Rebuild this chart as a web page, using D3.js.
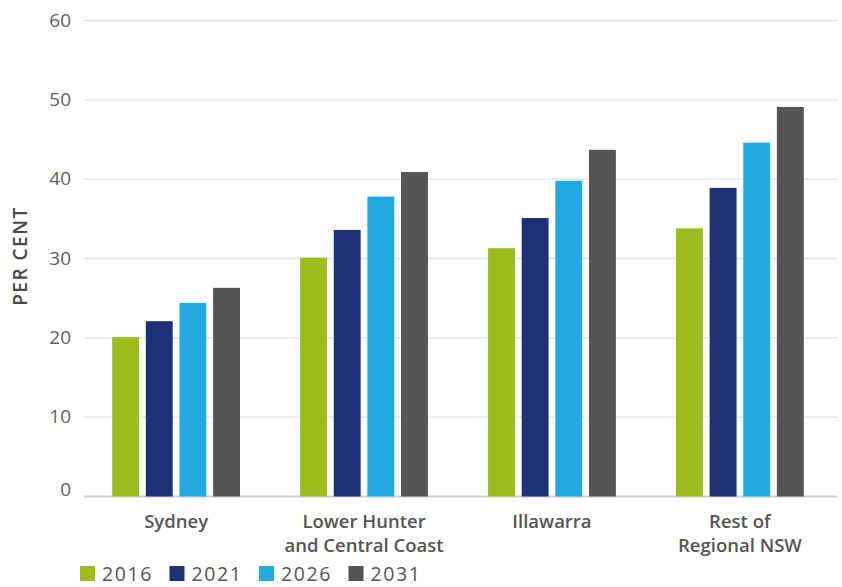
<!DOCTYPE html>
<html>
<head>
<meta charset="utf-8">
<script src="https://cdn.jsdelivr.net/npm/d3@7/dist/d3.min.js"></script>
<style>
  body { margin: 0; background: #fff; }
  text { font-family: "Open Sans", "Noto Sans", sans-serif; }
</style>
</head>
<body>
<svg id="chart"></svg>
<script>
// data
const regions = [["Sydney"], ["Lower Hunter", "and Central Coast"], ["Illawarra"], ["Rest of", "Regional NSW"]];
const years = ["2016", "2021", "2026", "2031"];
const v2016 = [20.1, 30.1, 31.3, 33.8];
const v2021 = [22.1, 33.6, 35.1, 38.9];
const v2026 = [24.4, 37.8, 39.8, 44.6];
const v2031 = [26.3, 40.9, 43.7, 49.1];
const yTicks = [0, 10, 20, 30, 40, 50, 60];

const colors = ["#9dbd1e", "#1d3177", "#23a9e1", "#555553"];
const series = [v2016, v2021, v2026, v2031];

const width = 842, height = 587;
const margin = { top: 20, right: 4, bottom: 91, left: 84 };

let svg = d3.select("#chart")
    .attr("width", width)
    .attr("height", height);

const names = regions.map(d => d.join(" "));

let x0 = d3.scaleBand()
    .domain(names)
    .range([margin.left, 832])
    .paddingInner(0.32)
    .paddingOuter(0.15);

let x1 = d3.scaleBand()
    .domain(years)
    .range([0, x0.bandwidth()])
    .paddingInner(0.2);

let y = d3.scaleLinear()
    .domain([0, 60])
    .range([height - margin.bottom + 0.5, margin.top + 0.5]);

// gridlines
svg.append("g")
    .selectAll("line")
    .data(yTicks)
    .enter()
    .append("line")
    .attr("x1", margin.left)
    .attr("x2", width - margin.right)
    .attr("y1", d => y(d))
    .attr("y2", d => y(d))
    .attr("stroke", d => d === 0 ? "#cfcfcf" : "#e0e0e0")
    .attr("stroke-width", d => d === 0 ? 2 : 1.3);

// y tick labels (the 0 sits above its line)
svg.append("g")
    .selectAll("text")
    .data(yTicks)
    .enter()
    .append("text")
    .attr("x", 71)
    .attr("y", d => d === 0 ? y(d) - 1 : y(d) + 6)
    .attr("text-anchor", "end")
    .attr("font-size", 19)
    .attr("fill", "#5e5e5e")
    .text(d => d);

// y title
svg.append("text")
    .attr("transform", "translate(27,256) rotate(-90)")
    .attr("text-anchor", "middle")
    .attr("font-size", 19)
    .attr("font-weight", 600)
    .attr("letter-spacing", 1.5)
    .attr("fill", "#4a4a4a")
    .text("PER CENT");

// bars
let rows = names.map((n, i) => ({ name: n, values: years.map((yr, j) => ({ year: yr, value: series[j][i], c: colors[j] })) }));

svg.append("g")
    .selectAll("g")
    .data(rows)
    .enter()
    .append("g")
    .attr("transform", d => "translate(" + x0(d.name) + ",0)")
    .selectAll("rect")
    .data(d => d.values)
    .enter()
    .append("rect")
    .attr("x", d => x1(d.year))
    .attr("y", d => y(d.value))
    .attr("width", x1.bandwidth())
    .attr("height", d => y(0) - y(d.value))
    .attr("fill", d => d.c);

// category labels
let cat = svg.append("g")
    .selectAll("text")
    .data(regions)
    .enter()
    .append("text")
    .attr("text-anchor", "middle")
    .attr("font-size", 18.5)
    .attr("font-weight", 600)
    .attr("fill", "#555");

cat.selectAll("tspan")
    .data((d, i) => d.map(line => ({ line: line, x: x0(names[i]) + x0.bandwidth() / 2 })))
    .enter()
    .append("tspan")
    .attr("x", d => d.x)
    .attr("y", (d, i) => 528 + i * 24)
    .text(d => d.line);

// legend
let legend = svg.append("g")
    .selectAll("g")
    .data(years)
    .enter()
    .append("g")
    .attr("transform", (d, i) => "translate(" + (80 + i * 89.5) + ",566)");

legend.append("rect")
    .attr("width", 15)
    .attr("height", 15)
    .attr("fill", (d, i) => colors[i]);

legend.append("text")
    .attr("x", 22)
    .attr("y", 15)
    .attr("font-size", 19.5)
    .attr("font-weight", 500)
    .attr("letter-spacing", 1.6)
    .attr("fill", "#555")
    .text(d => d);
</script>
</body>
</html>
